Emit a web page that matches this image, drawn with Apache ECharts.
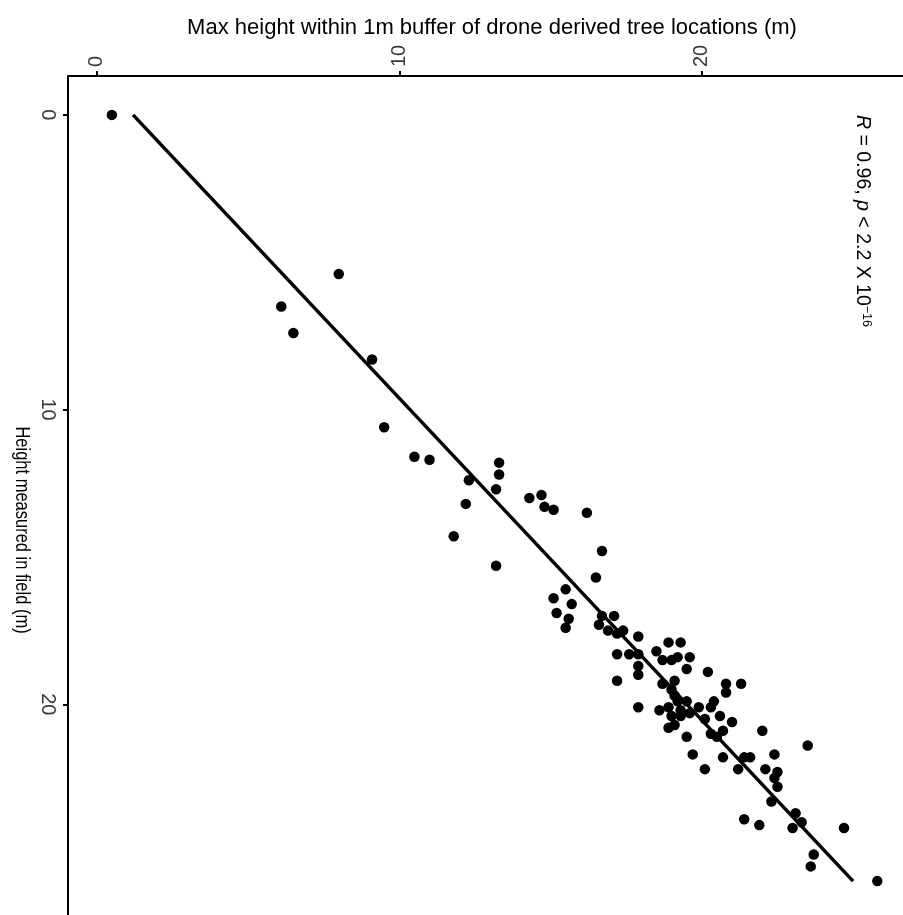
<!DOCTYPE html>
<html>
<head>
<meta charset="utf-8">
<script src="https://cdn.jsdelivr.net/npm/echarts@6/dist/echarts.min.js"></script>
<style>
  html, body { margin: 0; padding: 0; background: #fff; }
  #main { width: 903px; height: 915px; }
</style>
</head>
<body>
<div id="main"></div>
<script>
"use strict";
// drone derived max height (m), field measured height (m)
var droneHeight = [
  0.5, 8.0, 6.1, 6.5, 9.1, 9.5, 10.5, 11.0, 13.3, 13.3,
  12.3, 13.2, 12.2, 14.3, 14.7, 14.8, 15.1, 16.2, 11.8, 13.2,
  16.7, 16.5, 15.5, 15.1, 15.7, 15.2, 15.6, 15.5, 16.7, 17.1,
  16.6, 16.9, 17.2, 17.4, 17.9, 17.2, 17.6, 17.9, 17.9, 17.9,
  17.2, 18.5, 18.9, 19.3, 18.7, 19.0, 19.2, 19.6, 19.5, 20.2,
  18.7, 19.1, 19.0, 19.1, 19.2, 19.5, 17.9, 18.6, 18.9, 19.0,
  19.3, 19.6, 19.9, 20.4, 20.3, 20.1, 20.6, 21.0, 20.8, 21.3,
  20.8, 18.9, 19.1, 19.5, 20.3, 20.7, 20.5, 22.0, 19.7, 20.7,
  21.4, 21.6, 22.4, 20.1, 21.2, 22.1, 23.5, 22.5, 22.4, 22.5,
  22.3, 23.1, 23.3, 23.0, 21.4, 21.9, 24.7, 23.7, 23.6, 25.8,
  19.3
];
var fieldHeight = [
  0.0, 5.4, 6.5, 7.4, 8.3, 10.6, 11.6, 11.7, 11.8, 12.2,
  12.4, 12.7, 13.2, 13.0, 12.9, 13.3, 13.4, 13.5, 14.3, 15.3,
  14.8, 15.7, 16.1, 16.4, 16.6, 16.9, 17.1, 17.4, 17.0, 17.0,
  17.3, 17.5, 17.6, 17.5, 17.7, 18.3, 18.3, 18.3, 18.7, 19.0,
  19.2, 18.2, 17.9, 17.9, 18.5, 18.5, 18.4, 18.4, 18.8, 18.9,
  19.3, 19.2, 19.5, 19.7, 19.9, 19.9, 20.1, 20.2, 20.1, 20.4,
  20.2, 20.3, 20.1, 19.9, 20.1, 20.5, 20.4, 20.6, 19.3, 19.3,
  19.6, 20.8, 20.7, 21.1, 21.0, 20.9, 21.1, 20.9, 21.7, 21.8,
  21.8, 21.8, 21.7, 22.2, 22.2, 22.2, 21.4, 22.3, 22.5, 22.8,
  23.3, 23.7, 24.0, 24.2, 23.9, 24.1, 24.2, 25.1, 25.5, 26.0,
  20.4
];
// fitted line ends: [drone, field]
var fitLine = [[1.2, 0.0], [25.0, 26.0]];
var tickValues = [0, 10, 20];

var points = [];
for (var i = 0; i < droneHeight.length; i++) {
  points.push([droneHeight[i], fieldHeight[i]]);
}

var font = "'Liberation Sans', Arial, sans-serif";
var myChart = echarts.init(document.getElementById('main'));
var option = {
  animation: false,
  title: {
    text: 'Max height within 1m buffer of drone derived tree locations (m)',
    left: 487,
    top: 12,
    textAlign: 'center',
    textStyle: { fontFamily: font, fontSize: 22, fontWeight: 'normal', color: '#000' }
  },
  grid: { left: 68, top: 76, right: 0, bottom: 0 },
  xAxis: {
    type: 'value',
    position: 'top',
    min: -0.95,
    max: 26.65,
    splitLine: { show: false },
    axisLine: { show: true, onZero: false, lineStyle: { color: '#000', width: 2 } },
    axisTick: { show: true, customValues: tickValues, length: 5, lineStyle: { color: '#000', width: 2 } },
    axisLabel: {
      customValues: tickValues,
      rotate: -90,
      margin: 9,
      fontFamily: font,
      fontSize: 20,
      color: '#3a3a3a'
    }
  },
  yAxis: {
    type: 'value',
    inverse: true,
    min: -1.32,
    max: 27.15,
    splitLine: { show: false },
    axisLine: { show: true, onZero: false, lineStyle: { color: '#000', width: 2 } },
    axisTick: { show: true, customValues: tickValues, length: 5, lineStyle: { color: '#000', width: 2 } },
    axisLabel: {
      customValues: tickValues,
      rotate: -90,
      margin: 10,
      align: 'center',
      verticalAlign: 'top',
      fontFamily: font,
      fontSize: 20,
      color: '#3a3a3a'
    }
  },
  graphic: [
    {
      type: 'text',
      x: 22,
      y: 530,
      rotation: -Math.PI / 2,
      scaleY: 1.25,
      style: {
        text: 'Height measured in field (m)',
        fontFamily: font,
        fontSize: 16.5,
        fill: '#000',
        align: 'center',
        verticalAlign: 'middle'
      }
    },
    {
      type: 'text',
      x: 862,
      y: 115,
      rotation: -Math.PI / 2,
      style: {
        text: '{i|R} = 0.96, {i|p} < 2.2 X 10{s|\u221216}',
        fontFamily: font,
        fontSize: 19.5,
        fill: '#000',
        align: 'left',
        verticalAlign: 'middle',
        rich: {
          i: { fontFamily: font, fontSize: 19.5, fontStyle: 'italic', fill: '#000' },
          s: { fontFamily: font, fontSize: 12.5, fill: '#000', verticalAlign: 'top', padding: [0, 0, 8, 0] }
        }
      }
    }
  ],
  series: [
    {
      type: 'line',
      data: fitLine,
      showSymbol: false,
      silent: true,
      lineStyle: { color: '#000', width: 3.5 },
      z: 2
    },
    {
      type: 'scatter',
      data: points,
      symbolSize: 10.5,
      itemStyle: { color: '#000', opacity: 1 },
      z: 3
    }
  ]
};
myChart.setOption(option);
</script>
</body>
</html>
